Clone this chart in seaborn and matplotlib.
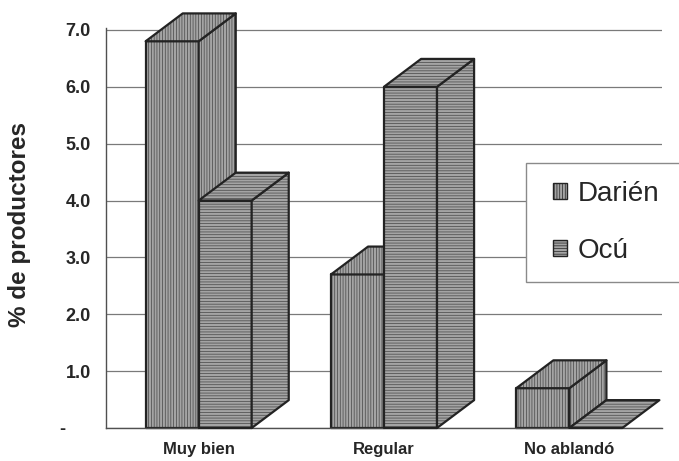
import pandas as pd
import seaborn as sns
import matplotlib.pyplot as plt
from matplotlib.patches import Polygon, Patch, Rectangle

# Datos del gráfico
categorias = ['Muy bien', 'Regular', 'No ablandó']
series = ['Darién', 'Ocú']
darien = [6.8, 2.7, 0.7]
ocu = [4.0, 6.0, 0.0]
yticks = [0, 1, 2, 3, 4, 5, 6, 7]
ytick_labels = ['-     ', '1.0', '2.0', '3.0', '4.0', '5.0', '6.0', '7.0']

df = pd.DataFrame({
    'categoria': categorias * 2,
    'serie': [series[0]] * 3 + [series[1]] * 3,
    'valor': darien + ocu,
})

# Estilo
sns.set_style('white')
plt.rcParams['font.family'] = ['Liberation Sans', 'DejaVu Sans']
plt.rcParams['hatch.linewidth'] = 0.5

relleno = '#a4a4a4'
color_rayas = '#454545'
color_borde = '#232323'
rayas = {'Darién': '||||||', 'Ocú': '------'}
prof_x, prof_y = 0.2, 0.49   # profundidad del efecto 3D

fig = plt.figure(figsize=(6.79, 4.61), dpi=100)
ax = fig.add_axes([0.1561, 0.0716, 0.8189, 0.9067])

sns.barplot(data=df, x='categoria', y='valor', hue='serie', order=categorias,
            hue_order=series, palette={s: relleno for s in series},
            width=0.572, gap=0, errorbar=None, legend=False, ax=ax)


def cara(vertices, patron, z):
    ax.add_patch(Polygon(vertices, closed=True, facecolor=relleno, edgecolor=color_rayas,
                         hatch=patron, lw=0, zorder=z, clip_on=False))
    ax.add_patch(Polygon(vertices, closed=True, fill=False, edgecolor=color_borde,
                         lw=1.6, zorder=z, clip_on=False, joinstyle='round'))


# Caras frontal, superior y lateral de cada barra
for k, (serie, cont) in enumerate(zip(series, ax.containers)):
    patron = rayas[serie]
    z = 2 + k
    for rect in cont:
        x0, w, h = rect.get_x(), rect.get_width(), rect.get_height()
        rect.set_visible(False)
        frente = [(x0, 0), (x0 + w, 0), (x0 + w, h), (x0, h)]
        arriba = [(x0, h), (x0 + w, h), (x0 + w + prof_x, h + prof_y), (x0 + prof_x, h + prof_y)]
        lado = [(x0 + w, 0), (x0 + w + prof_x, prof_y), (x0 + w + prof_x, h + prof_y), (x0 + w, h)]
        if h > 0:
            cara(frente, patron, z)
            cara(lado, patron, z)
        cara(arriba, patron, z)

# Ejes
ax.set_xlim(-0.5, 2.5)
ax.set_ylim(0, 7.35)
ax.set_axisbelow(True)
ax.yaxis.grid(True, color='#7a7a7a', lw=0.9)
ax.xaxis.grid(False)
sns.despine(ax=ax)
for lado_eje in ['left', 'bottom']:
    ax.spines[lado_eje].set_color('#505050')
    ax.spines[lado_eje].set_linewidth(1.0)
ax.spines['left'].set_bounds(0, 7.04)

ax.set_yticks(yticks, ytick_labels, fontweight='bold', fontsize=13)
ax.tick_params(axis='y', length=5, width=0.9, color='#505050', direction='out', pad=6)
ax.set_xticks(range(len(categorias)), categorias, fontweight='bold', fontsize=12)
ax.set_xticks([-0.5, 0.5, 1.5, 2.5], minor=True)
ax.tick_params(axis='x', which='major', length=0, pad=10)
ax.tick_params(axis='x', which='minor', length=7, width=0.9, color='#505050', direction='out')
ax.set_xlabel('')
ax.set_ylabel('')

fig.text(20 / 679, 0.514, '% de productores', rotation=90, ha='center', va='center',
         fontsize=17.5, fontweight='bold')

# Leyenda (marco aparte, cortado por el borde derecho como en el original)
ax.add_patch(Rectangle((526 / 679, 1 - 282 / 461), 170 / 679, 119 / 461,
                       transform=fig.transFigure, facecolor='white', edgecolor='#8a8a8a',
                       lw=1.0, zorder=9, clip_on=False))
manijas = [Patch(facecolor=relleno, edgecolor=color_borde, hatch=rayas[s], lw=1) for s in series]
leg = ax.legend(manijas, series, loc='upper left', bbox_to_anchor=(553 / 679, 1 - 181 / 461),
                bbox_transform=fig.transFigure, fontsize=20, frameon=False,
                handlelength=0.5, handleheight=0.5, handletextpad=0.4,
                borderpad=0, labelspacing=1.1, borderaxespad=0)
leg.set_zorder(10)

plt.savefig('out.png', dpi=100)
